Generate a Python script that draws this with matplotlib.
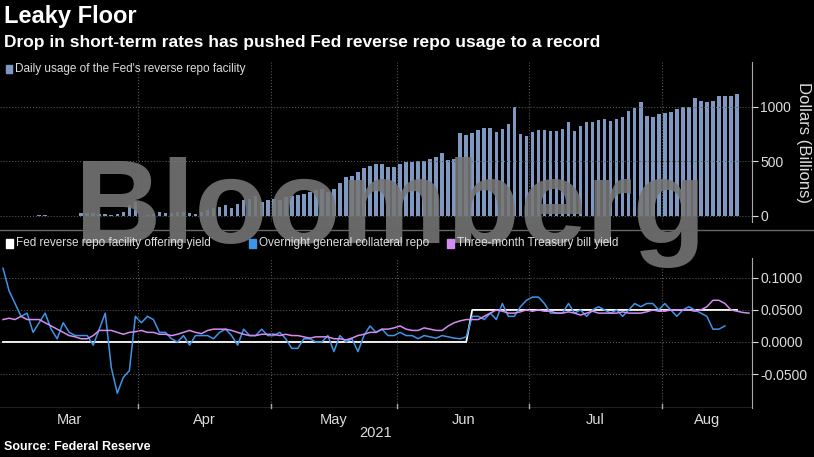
import matplotlib
matplotlib.use("Agg")
import matplotlib.pyplot as plt
import numpy as np
import pandas as pd

usage = [2,2,2,2,2,2,10,5,2,2,2,2,2,30,25,25,20,15,10,20,40,100,130,
         0,10,20,35,30,30,35,40,30,20,40,55,70,85,100,70,110,150,160,180,
         130,150,160,150,170,180,190,200,220,240,250,220,250,300,360,370,400,440,460,480,
         480,450,450,480,490,490,500,500,520,540,580,510,520,760,740,760,790,810,810,770,800,840,1000,
         750,730,770,790,790,780,780,800,860,780,820,860,860,880,890,870,890,910,960,990,1040,
         920,910,930,940,950,980,1000,1000,1080,1050,1040,1050,1100,1100,1100,1120]
rrp = [0.0]*78 + [0.05]*(len(usage)-78)
gc = [0.115,0.08,0.06,0.04,0.045,0.015,0.03,0.045,0.02,0.005,0.03,0.015,0.01,0.01,0.01,-0.005,0.02,0.045,
      -0.04,-0.08,-0.055,-0.045,0.04,0.03,0.04,0.035,0.015,0.015,0.005,0.0,0.01,-0.005,0.01,0.01,0.01,
      0.005,0.015,0.02,0.01,-0.005,0.02,0.01,0.01,0.02,0.01,0.01,0.015,0.005,-0.01,-0.01,0.005,0.005,
      0.0,0.0,0.01,-0.015,0.01,0.0,0.005,-0.015,0.01,0.025,0.015,0.02,0.01,0.01,0.015,0.01,0.01,0.005,
      0.01,0.008,0.006,0.01,0.008,0.006,0.005,0.008,0.04,0.04,0.035,0.045,0.035,0.06,0.04,0.04,0.055,0.065,
      0.07,0.07,0.06,0.045,0.045,0.045,0.06,0.045,0.05,0.04,0.05,0.055,0.05,0.045,0.05,0.04,0.05,
      0.06,0.055,0.06,0.06,0.05,0.06,0.05,0.04,0.05,0.055,0.05,0.045,0.04,0.02,0.02,0.025]
tbill = [0.035,0.037,0.035,0.04,0.035,0.035,0.035,0.03,0.025,0.02,0.015,0.01,0.008,0.005,0.005,0.01,
         0.018,0.018,0.018,0.015,0.012,0.015,0.016,0.018,0.015,0.015,0.012,0.012,0.01,0.012,0.015,0.018,
         0.015,0.013,0.018,0.02,0.02,0.02,0.018,0.015,0.012,0.01,0.01,0.012,0.012,0.012,0.01,0.012,0.01,
         0.01,0.008,0.006,0.008,0.008,0.008,0.005,0.005,0.003,0.006,0.01,0.012,0.015,0.015,0.02,0.02,
         0.022,0.025,0.02,0.018,0.018,0.022,0.02,0.018,0.018,0.025,0.03,0.033,0.035,0.035,0.035,0.04,
         0.045,0.05,0.048,0.045,0.045,0.047,0.05,0.048,0.05,0.048,0.048,0.045,0.045,0.047,0.045,0.042,
         0.045,0.048,0.045,0.045,0.045,0.045,0.047,0.045,0.045,0.045,0.047,0.05,0.048,0.048,0.05,0.05,
         0.05,0.05,0.048,0.05,0.055,0.065,0.065,0.06,0.05,0.048,0.046,0.045]

dates = pd.bdate_range("2021-03-01", periods=len(usage))
n = len(usage)
W, H = 814, 457
fig = plt.figure(figsize=(W/100, H/100), dpi=100, facecolor="black")
plt.rcParams['font.family'] = ['Liberation Sans', 'DejaVu Sans']

def ax_rect(x0, y0, x1, y1):
    return [x0/W, 1-y1/H, (x1-x0)/W, (y1-y0)/H]

ax1 = fig.add_axes(ax_rect(0, 62, 752, 222), facecolor="black")
ax2 = fig.add_axes(ax_rect(0, 258, 752, 408), facecolor="black", sharex=ax1)

x = np.arange(n)
ax1.bar(x, usage, width=0.6, color="#7f98c2")
ax1.set_ylim(-55, 1410)
ax1.set_yticks([0, 500, 1000])
ax2.plot(np.arange(len(rrp)), rrp, color="white", lw=1.3)
ax2.plot(np.arange(len(gc)), gc, color="#3d95e8", lw=1.1)
ax2.plot(np.arange(len(tbill)), tbill, color="#d58cf0", lw=1.1)
ax2.set_ylim(-0.103, 0.131)
ax2.set_yticks([-0.05, 0, 0.05, 0.1])
ax2.set_yticklabels(["-0.0500", "0.0000", "0.0500", "0.1000"])
ax1.set_xlim(-0.5, n + 1.5)

bounds = [np.searchsorted(dates, pd.Timestamp(f"2021-{m:02d}-01")) - 0.5 for m in range(4, 9)]
edges = [-0.5] + bounds + [n + 1.5]
mids = [(edges[i]+edges[i+1])/2 for i in range(len(edges)-1)]
for ax in (ax1, ax2):
    for s in ["top", "left", "bottom"]:
        ax.spines[s].set_visible(False)
    ax.spines["right"].set_color("#aaaaaa")
    ax.yaxis.tick_right()
    ax.tick_params(axis="y", colors="#dddddd", labelsize=10, length=4, pad=2)
    ax.tick_params(axis="x", length=0)
    ax.grid(True, axis="y", color="#555555", ls=":", lw=0.8)
    for b in bounds:
        ax.axvline(b, color="#555555", ls=":", lw=0.8)
ax1.tick_params(axis="x", labelbottom=False)
ax2.set_xticks(mids)
ax2.set_xticklabels(["Mar", "Apr", "May", "Jun", "Jul", "Aug"], color="#dddddd", fontsize=10.5)
for b in bounds:
    ax2.plot([b, b], [-0.103, -0.097], color="#aaaaaa", lw=1, clip_on=False)
ax2.axhline(-0.103, color="#aaaaaa", lw=1)
fig.text(376/W, 1-433/H, "2021", color="#dddddd", fontsize=10.5, ha="center", va="center")

fig.text(803/W, 1-142/H, "Dollars (Billions)", color="#dddddd", fontsize=12, rotation=270,
         ha="center", va="center")

fig.text(4/W, 1-17/H, "Leaky Floor", color="white", fontsize=17, fontweight="bold", va="center")
fig.text(4/W, 1-42/H, "Drop in short-term rates has pushed Fed reverse repo usage to a record",
         color="white", fontsize=12.5, fontweight="bold", va="center")
fig.text(4/W, 1-447/H, "Source: Federal Reserve", color="white", fontsize=9, fontweight="bold", va="center")

fig.text(390/W, 1-213/H, "Bloomberg", color="#777777", alpha=0.88, fontsize=86, fontweight="bold",
         ha="center", va="center", zorder=3)

fig.patches.append(plt.Rectangle((6/W, 1-73/H), 6/W, 8/H, transform=fig.transFigure, color="#7f98c2", zorder=5))
fig.text(15/W, 1-69/H, "Daily usage of the Fed's reverse repo facility", color="#dddddd", fontsize=8.5, va="center", zorder=5)
for px, col, lab in [(6, "white", "Fed reverse repo facility offering yield"),
                     (249, "#3d95e8", "Overnight general collateral repo"),
                     (447, "#d58cf0", "Three-month Treasury bill yield")]:
    fig.patches.append(plt.Rectangle((px/W, 1-248/H), 7/W, 9/H, transform=fig.transFigure, color=col, zorder=5))
    fig.text((px+10)/W, 1-243/H, lab, color="#dddddd", fontsize=8.5, va="center", zorder=5)

fig.lines.append(plt.Line2D([0, 1], [1-230/H, 1-230/H], transform=fig.transFigure, color="#666666", lw=1, zorder=4))

fig.savefig("out.png", dpi=100, facecolor="black")
